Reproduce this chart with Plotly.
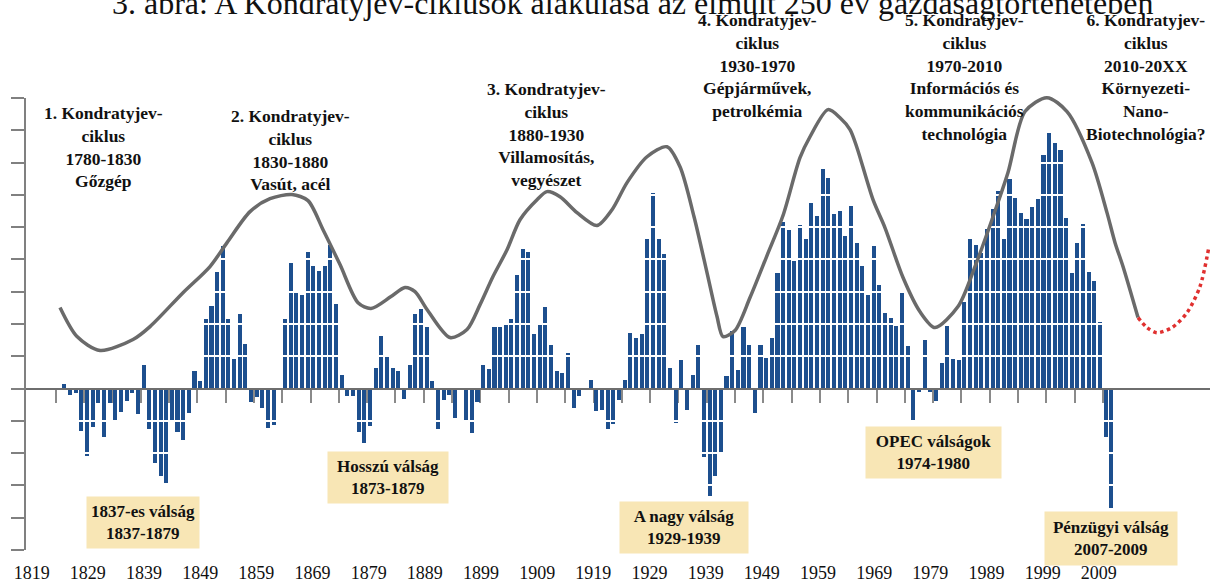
import plotly.graph_objects as go

# ---------------- data ----------------
years = list(range(1825, 2011))
growth = [
    0.15, -0.2, -0.15, -1.3, -2.1,
    -1.2, -0.45, -1.5, -0.45, -1.0, -0.72, -0.4, -0.15, -0.8, 0.72,
    -1.25, -2.3, -2.7, -2.93, -1.05, -1.35, -1.6, -0.75, 0.55, 0.23,
    2.17, 2.56, 3.6, 4.42, 2.17, 0.93, 2.3, 1.37, -0.42, -0.25,
    -0.6, -1.22, -1.14, 0, 2.15, 3.89, 3.0, 2.91, 4.22, 3.81,
    3.65, 3.81, 4.45, 2.63, 0.42, -0.22, -0.24, -1.35, -1.68, -1.15,
    0.63, 1.64, 0.97, 0.65, 0.55, -0.33, 0.74, 2.3, 2.47, 1.92,
    0.24, -1.24, -0.34, -0.21, -0.91, 0, -0.97, -1.37, -0.42, 0.72,
    0.62, 1.91, 1.91, 2.03, 2.15, 3.51, 4.33, 4.22, 1.69, 1.99,
    2.52, 1.35, 0.53, 0.49, 1.09, -0.6, -0.24, 0, 0.27, -0.71,
    -0.65, -1.25, -1.09, -0.35, 0.27, 1.72, 1.57, 1.68, 4.64, 6.05,
    4.64, 4.18, 0.64, -1.08, 0.88, -0.65, 0.43, 1.36, -2.12, -3.32,
    -2.72, -2.0, 0.38, 1.78, 0.59, 1.9, 1.36, -0.75, 1.36, 0.96,
    1.56, 3.58, 5.16, 4.92, 3.94, 5.07, 4.63, 5.74, 5.33, 6.8,
    6.51, 5.41, 5.49, 4.72, 5.67, 4.51, 3.81, 2.91, 4.43, 3.21,
    2.34, 2.19, 1.93, 3.0, 1.32, -1.01, -0.12, 1.5, -0.1, -0.38,
    0.8, 1.94, 0.93, 0.89, 2.68, 4.62, 4.44, 4.19, 4.95, 5.55,
    6.12, 4.64, 6.48, 5.89, 5.45, 5.26, 5.63, 5.86, 7.25, 7.93,
    7.62, 7.39, 5.29, 3.57, 4.52, 5.09, 3.61, 3.33, 2.07, -1.5,
    -3.69,
]

# Kondratyev wave (grey curve)
wave_years = [1824.24, 1827.24, 1831.31, 1837.14, 1840.14, 1845.97, 1850.74, 1853.75,
              1857.81, 1861.34, 1865.23, 1868.06, 1870.71, 1873.71, 1876.89, 1879.19,
              1882.72, 1885.19, 1886.96, 1889.08, 1893.14, 1896.15, 1898.45, 1900.74,
              1903.22, 1905.51, 1908.52, 1910.28, 1912.58, 1915.58, 1919.12, 1921.77,
              1924.42, 1927.95, 1931.48, 1933.78, 1936.25, 1938.55, 1940.32, 1941.38,
              1943.50, 1946.15, 1949.15, 1951.98, 1954.98, 1956.75, 1959.93, 1962.05,
              1963.82, 1965.05, 1967.88, 1970.00, 1973.18, 1976.18, 1978.83, 1982.90,
              1985.90, 1988.90, 1991.73, 1994.73, 1998.62, 2002.16, 2006.57, 2009.22,
              2010.64, 2012.05, 2014.70]
wave_vals = [2.51, 1.61, 1.18, 1.52, 1.92, 2.97, 3.78, 4.52,
             5.48, 5.88, 6.01, 5.82, 4.92, 3.84, 2.66, 2.48,
             2.85, 3.13, 3.00, 2.45, 1.58, 1.83, 2.60, 3.47,
             4.30, 5.23, 5.85, 6.10, 5.94, 5.45, 5.05, 5.54,
             6.38, 7.18, 7.49, 6.87, 5.33, 3.59, 2.23, 1.61,
             1.80, 2.82, 4.12, 5.36, 7.15, 7.80, 8.64, 8.39,
             8.02, 7.46, 5.85, 4.98, 3.44, 2.38, 1.89, 2.54,
             3.78, 5.23, 6.69, 8.58, 9.01, 8.58, 7.00, 5.45,
             4.52, 3.78, 2.20]

# projected 6th wave (red dotted)
proj_years = [2014.70, 2016.29, 2018.06, 2020.71, 2023.36, 2025.65, 2027.24]
proj_vals = [2.20, 1.89, 1.73, 1.89, 2.35, 3.16, 4.40]

label_years = [1819 + 10 * i for i in range(20)]
tick_years = [1823.5 + 5 * i for i in range(38)]
grid_levels = [-4, -3, -2, -1, 1, 2, 3, 4, 5, 6, 7, 8, 9]

title_text = "3. ábra: A Kondratyjev-ciklusok alakulása az elmúlt 250 év gazdaságtörténetében"
cycles = [
    "1. Kondratyjev-<br>ciklus<br>1780-1830<br>Gőzgép",
    "2. Kondratyjev-<br>ciklus<br>1830-1880<br>Vasút, acél",
    "3. Kondratyjev-<br>ciklus<br>1880-1930<br>Villamosítás,<br>vegyészet",
    "4. Kondratyjev-<br>ciklus<br>1930-1970<br>Gépjárművek,<br>petrolkémia",
    "5. Kondratyjev-<br>ciklus<br>1970-2010<br>Információs és<br>kommunikációs<br>technológia",
    "6. Kondratyjev-<br>ciklus<br>2010-20XX<br>Környezeti-<br>Nano-<br>Biotechnológia?",
]
crises = [
    "1837-es válság<br>1837-1879",
    "Hosszú válság<br>1873-1879",
    "A nagy válság<br>1929-1939",
    "OPEC válságok<br>1974-1980",
    "Pénzügyi válság<br>2007-2009",
]

# ---------------- layout geometry ----------------
W, H = 1218, 584
PL, PR, PT, PB = 26, 1210, 60, 550
AXIS_TOP = 98
x_range = [1818.23, 2027.42]
label_range = [1817.99, 2028.79]   # the printed year labels use a slightly different spacing
dom_top = (PB - AXIS_TOP) / (PB - PT)
unit = (PB - AXIS_TOP) / 14.0
y2_top = 9 + (AXIS_TOP - PT) / unit

# positions of the year labels expressed on the bar axis
label_pos = [x_range[0] + (y - label_range[0]) / (label_range[1] - label_range[0]) * (x_range[1] - x_range[0])
             for y in label_years]


def fx(p):
    return (p - PL) / (PR - PL)


def fy(p):
    return (PB - p) / (PB - PT)


SERIF = "Liberation Serif"

fig = go.Figure()
fig.add_trace(go.Bar(x=years, y=growth, width=0.72, marker=dict(color="#1d4f8e", line=dict(width=0)),
                     xaxis="x", yaxis="y", showlegend=False, hoverinfo="x+y"))
fig.add_trace(go.Scatter(x=wave_years, y=wave_vals, mode="lines",
                         line=dict(color="#6a6a6a", width=3.5, shape="spline", smoothing=0.8),
                         xaxis="x2", yaxis="y2", showlegend=False))
fig.add_trace(go.Scatter(x=proj_years, y=proj_vals, mode="lines",
                         line=dict(color="#e0302f", width=3.5, dash="dot", shape="spline", smoothing=0.8),
                         xaxis="x2", yaxis="y2", showlegend=False))

annotations = [dict(text=title_text, x=fx(632), y=fy(3), xref="paper", yref="paper",
                    showarrow=False, xanchor="center", yanchor="middle",
                    font=dict(family=SERIF, size=32, color="#111"))]

cycle_pos = [(103, 101), (290, 104), (546, 77), (757, 8), (964, 8), (1146, 8)]
for txt, (cx, ty) in zip(cycles, cycle_pos):
    annotations.append(dict(text="<b>" + txt + "</b>", x=fx(cx), y=fy(ty), xref="paper", yref="paper",
                            showarrow=False, xanchor="center", yanchor="top", align="center",
                            font=dict(family=SERIF, size=17.5, color="#111")))

crisis_boxes = [(143, 522.5, 112, 51), (388, 477.5, 120, 51), (684, 527.5, 128, 51),
                (933.5, 452.5, 135, 51), (1111, 538.5, 132, 53)]
for txt, (cx, cy, bw, bh) in zip(crises, crisis_boxes):
    annotations.append(dict(text="<b>" + txt + "</b>", x=fx(cx), y=fy(cy), xref="paper", yref="paper",
                            showarrow=False, xanchor="center", yanchor="middle", align="center",
                            width=bw, height=bh, valign="middle", bgcolor="#f8e6b5", borderpad=0,
                            font=dict(family=SERIF, size=17, color="#111")))

fig.update_layout(
    width=W, height=H,
    margin=dict(l=PL, r=W - PR, t=PT, b=H - PB, autoexpand=False),
    paper_bgcolor="white", plot_bgcolor="rgba(0,0,0,0)",
    bargap=0, showlegend=False,
    xaxis=dict(domain=[0, 1], range=x_range, anchor="free", position=dom_top * 5 / 14,
               tickmode="array", tickvals=tick_years, ticks="outside", ticklen=13, tickwidth=1.5,
               tickcolor="#8a8a8a", showticklabels=False, showgrid=False, zeroline=False,
               showline=False, layer="below traces", fixedrange=True),
    yaxis=dict(domain=[0, dom_top], range=[-5, 9], anchor="x", tickmode="array",
               tickvals=list(range(-5, 10)), ticks="outside", ticklen=13, tickwidth=1.5,
               tickcolor="#808080", showline=True, linecolor="#808080", linewidth=1.5,
               showticklabels=False, showgrid=False, zeroline=False, fixedrange=True),
    xaxis2=dict(domain=[0, 1], range=x_range, anchor="y2", side="bottom", tickmode="array",
                tickvals=label_pos, ticktext=[str(y) for y in label_years], ticks="",
                tickfont=dict(family=SERIF, size=18, color="#111"), ticklabelstandoff=10,
                showgrid=False, zeroline=False, showline=False, fixedrange=True),
    yaxis2=dict(domain=[0, 1], range=[-5, y2_top], anchor="x2", tickmode="array",
                tickvals=grid_levels, showticklabels=False, ticks="", showgrid=True,
                gridcolor="white", gridwidth=1.6, zeroline=True, zerolinecolor="#6e6e6e",
                zerolinewidth=1.6, showline=False, fixedrange=True),
    annotations=annotations,
)

fig.write_html("out.html", config={"displayModeBar": False},
               post_script="document.body.style.margin='0';document.body.style.overflow='hidden';")
